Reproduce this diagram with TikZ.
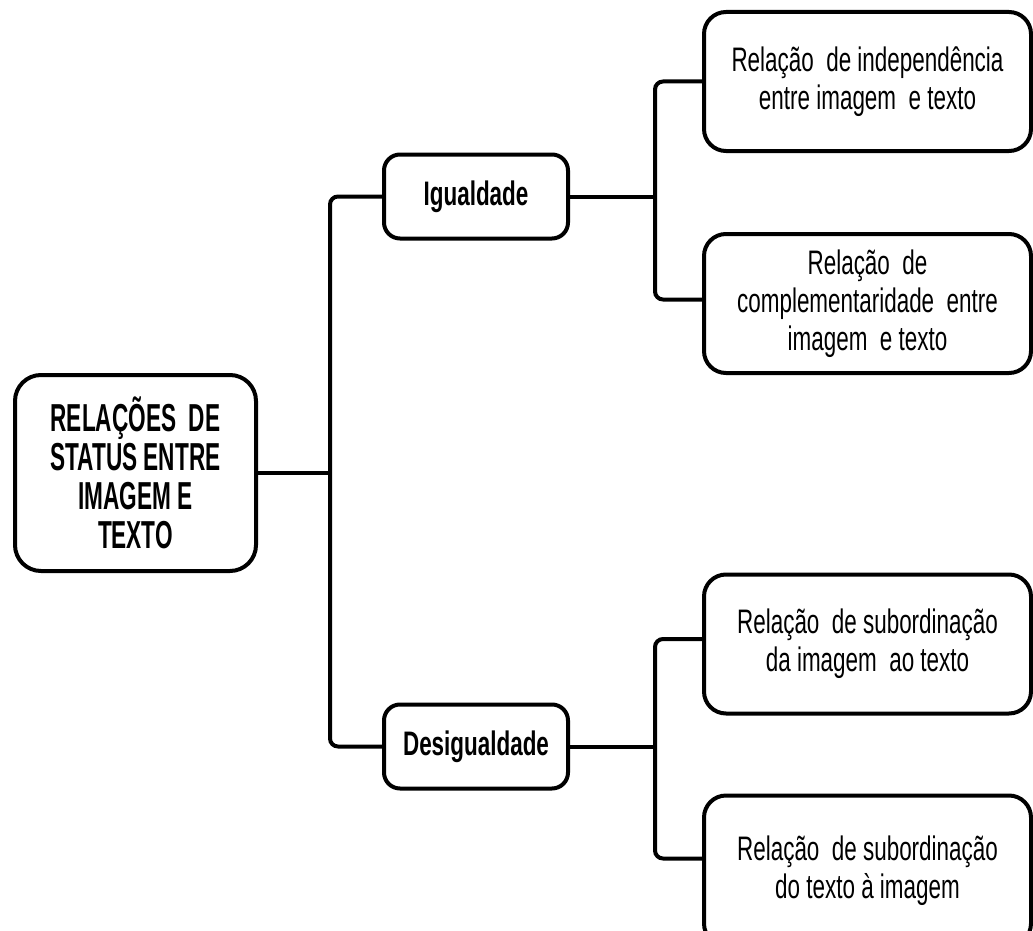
\documentclass[tikz,border=0pt]{standalone}
\usepackage{fontspec}
\setmainfont[FakeStretch=0.66]{Liberation Sans}
\newfontfamily\rootfont[FakeStretch=0.58]{Liberation Sans}
\usetikzlibrary{positioning}

\begin{document}
\begin{tikzpicture}[
    x=1pt, y=1pt,
    every node/.style={font=\fontsize{34}{38}\selectfont, align=center, inner sep=0pt},
    rootbox/.style={rectangle, rounded corners=26pt, draw=black, fill=white, line width=4pt, minimum width=241pt, minimum height=196pt, font=\rootfont\fontsize{39}{39}\selectfont\bfseries},
    groupbox/.style={rectangle, rounded corners=16pt, draw=black, fill=white, line width=4pt, minimum width=184pt, minimum height=84pt, font=\fontsize{34}{38}\selectfont\bfseries},
    leafbox/.style={rectangle, rounded corners=22pt, draw=black, fill=white, line width=4pt, minimum width=327pt, minimum height=139pt},
    link/.style={line width=4pt, draw=black, rounded corners=8pt}
]
\useasboundingbox (0,0) rectangle (1033,-931);

% Root
\node[rootbox] (root) at (135.5,-473) {RELAÇÕES~ DE\\STATUS ENTRE\\IMAGEM E\\TEXTO};

% Second level
\node[groupbox, right=124pt of root, yshift=276.5pt] (igual) {Igualdade};
\node[groupbox, below=462pt of igual] (desig) {Desigualdade};

% Leaves
\node[leafbox, right=132pt of igual, yshift=115pt] (indep) {Relação~ de independência\\entre imagem~ e texto};
\node[leafbox, right=132pt of igual, yshift=-107pt] (compl) {Relação~ de\\complementaridade~ entre\\imagem~ e texto};
\node[leafbox, right=132pt of desig, yshift=102.5pt] (subimg) {Relação~ de subordinação\\da imagem~ ao texto};
\node[leafbox, right=132pt of desig, yshift=-124pt, minimum height=150pt] (subtxt) {Relação~ de subordinação\\do texto à imagem};

% Junctions
\coordinate (trunk) at (330,-473);
\coordinate (jup) at (655,-196.5);
\coordinate (jdown) at (655,-746.5);

% Connections
\draw[link] (root.east) -- (trunk);
\draw[link] (igual.west) -| (trunk) |- (desig.west);
\draw[link] (igual.east) -- (jup);
\draw[link] (indep.west) -| (jup) |- ([yshift=4pt]compl.west);
\draw[link] (desig.east) -- (jdown);
\draw[link] ([yshift=5pt]subimg.west) -| (jdown) |- ([yshift=12pt]subtxt.west);

\end{tikzpicture}
\end{document}
